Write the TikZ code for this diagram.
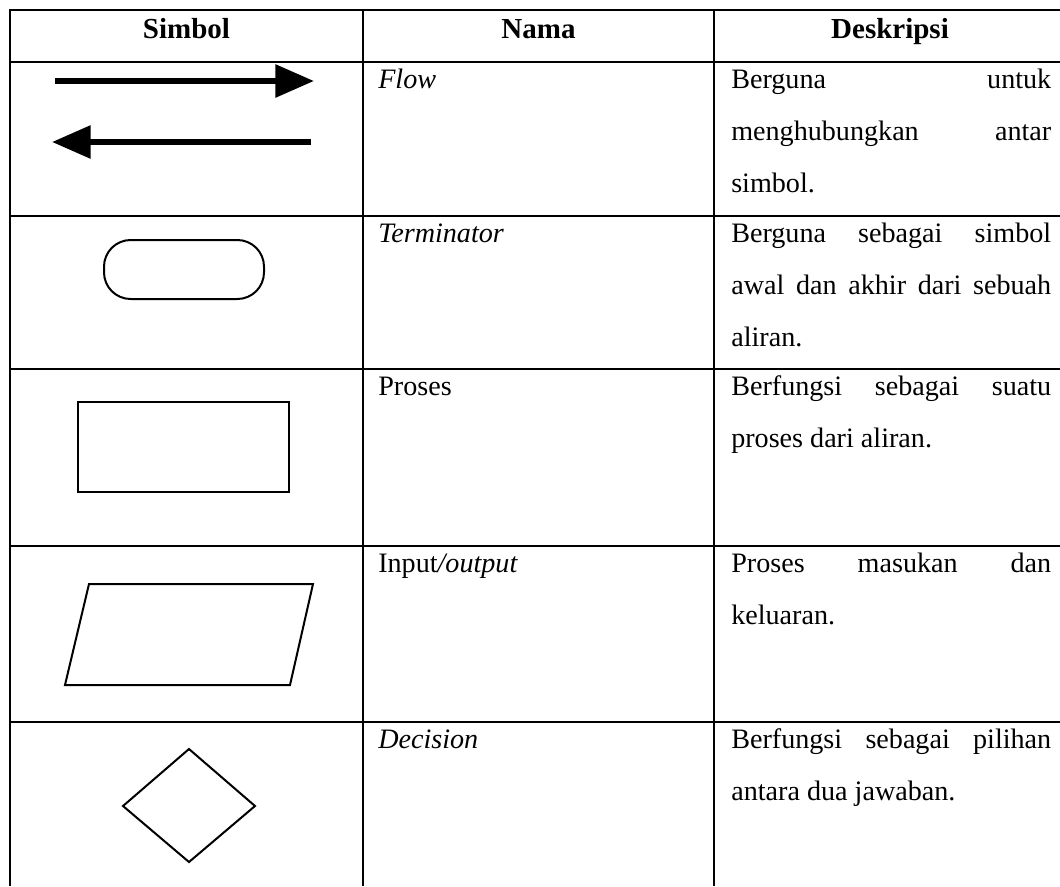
\documentclass[tikz,border=0pt]{standalone}
\usepackage{fontspec}
\setmainfont{Liberation Serif}
\usetikzlibrary{arrows.meta}
\newcommand{\jline}[1]{\makebox[240pt][s]{#1}}

\begin{document}
\begin{tikzpicture}[x=0.75pt,y=0.75pt,yscale=-1,xscale=1,
  rule/.style={line width=1.5pt},
  symbol/.style={line width=1.5pt,line join=miter},
  flowarrow/.style={line width=4.5pt,-{Triangle[length=29pt,width=24pt]}},
  headtext/.style={anchor=base,inner sep=0pt,font=\fontsize{21.75pt}{39pt}\selectfont\bfseries},
  namatext/.style={anchor=base west,inner sep=0pt,font=\fontsize{21.1pt}{39pt}\selectfont},
  desctext/.style={anchor=base west,inner sep=0pt,text width=241pt,align=justify,font=\fontsize{21.1pt}{39pt}\selectfont}]
\useasboundingbox (0,0) rectangle (1060,886);

%Table: outer border and column rules
\draw [rule] (1060,10) -- (10,10) -- (10,886) ;
\draw [rule] (363,10) -- (363,886) ;
\draw [rule] (714,10) -- (714,886) ;
%Table: row rules
\draw [rule] (10,62) -- (1060,62) ;
\draw [rule] (10,216) -- (1060,216) ;
\draw [rule] (10,369) -- (1060,369) ;
\draw [rule] (10,546) -- (1060,546) ;
\draw [rule] (10,722) -- (1060,722) ;

%Shape: Flow arrows
\coordinate (flowR1) at (55,81) ;
\coordinate (flowR2) at (314,81) ;
\draw [flowarrow] (flowR1) -- (flowR2) ;
\coordinate (flowL1) at (311,142) ;
\coordinate (flowL2) at (52,142) ;
\draw [flowarrow] (flowL1) -- (flowL2) ;
%Shape: Terminator
\draw [symbol,rounded corners=20pt] (104,240) rectangle (264,299) ;
%Shape: Proses
\draw [symbol] (78,402) rectangle (289,492) ;
%Shape: Input/output
\draw [symbol] (89,584) -- (313,584) -- (290,685) -- (65,685) -- cycle ;
%Shape: Decision
\draw [symbol] (189,749) -- (255,806) -- (189,862) -- (123,806) -- cycle ;

% Text Node
\draw (186.5,38) node (hdSimbol) [headtext] {Simbol};
% Text Node
\draw (538.5,38) node (hdNama) [headtext] {Nama};
% Text Node
\draw (890,38) node (hdDesk) [headtext] {Deskripsi};

% Text Node
\draw (378,88) node (nmFlow) [namatext] {\textit{Flow}};
% Text Node
\draw (378,242) node (nmTerm) [namatext] {\textit{Terminator}};
% Text Node
\draw (378,395) node (nmProses) [namatext] {Proses};
% Text Node
\draw (378,572) node (nmIO) [namatext] {Input\textit{/output}};
% Text Node
\draw (378,748) node (nmDec) [namatext] {\textit{Decision}};

% Text Node
\draw (731,88) node (dsFlow) [desctext] {\jline{Berguna untuk}\\\jline{menghubungkan antar}\\simbol.};
% Text Node
\draw (731,242) node (dsTerm) [desctext] {\jline{Berguna sebagai simbol}\\\jline{awal dan akhir dari sebuah}\\aliran.};
% Text Node
\draw (731,395) node (dsProses) [desctext] {\jline{Berfungsi sebagai suatu}\\proses dari aliran.};
% Text Node
\draw (731,572) node (dsIO) [desctext] {\jline{Proses masukan dan}\\keluaran.};
% Text Node
\draw (731,748) node (dsDec) [desctext] {\jline{Berfungsi sebagai pilihan}\\antara dua jawaban.};

\end{tikzpicture}
\end{document}
